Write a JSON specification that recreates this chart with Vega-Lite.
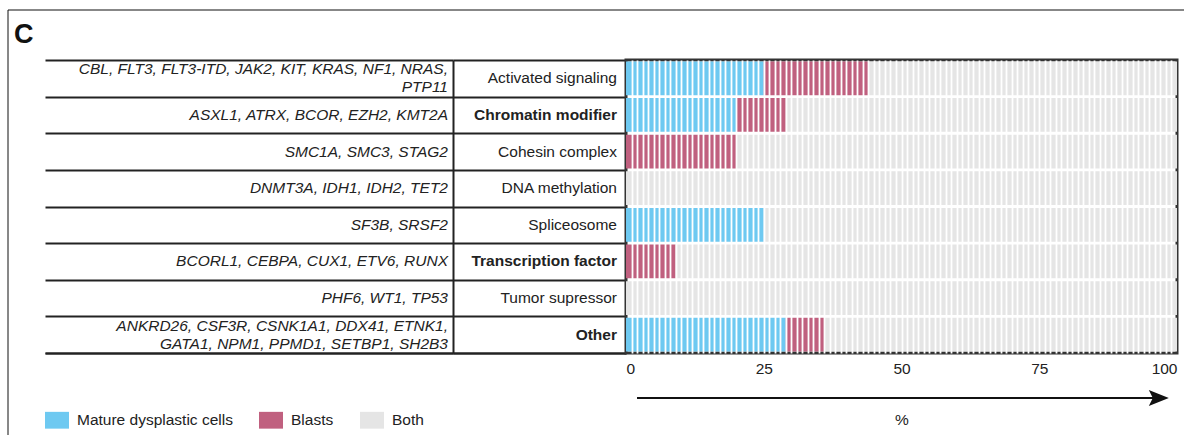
{
  "$schema": "https://vega.github.io/schema/vega-lite/v6.json",
  "padding": {"left": 7, "top": 9, "right": 0, "bottom": 0},
  "background": "white",
  "config": {
    "font": "Liberation Sans",
    "view": {"stroke": null},
    "concat": {"spacing": 0},
    "axis": {"labelFont": "Liberation Sans", "titleFont": "Liberation Sans"},
    "legend": {"labelFont": "Liberation Sans"}
  },
  "datasets": {
    "rows": [
      {"cat": "Activated signaling", "genes": "CBL, FLT3, FLT3-ITD, JAK2, KIT, KRAS, NF1, NRAS,\nPTP11"},
      {"cat": "Chromatin modifier", "genes": "ASXL1, ATRX, BCOR, EZH2, KMT2A"},
      {"cat": "Cohesin complex", "genes": "SMC1A, SMC3, STAG2"},
      {"cat": "DNA methylation", "genes": "DNMT3A, IDH1, IDH2, TET2"},
      {"cat": "Spliceosome", "genes": "SF3B, SRSF2"},
      {"cat": "Transcription factor", "genes": "BCORL1, CEBPA, CUX1, ETV6, RUNX"},
      {"cat": "Tumor supressor", "genes": "PHF6, WT1, TP53"},
      {"cat": "Other", "genes": "ANKRD26, CSF3R, CSNK1A1, DDX41, ETNK1,\nGATA1, NPM1, PPMD1, SETBP1, SH2B3"}
    ],
    "seg": [
      {"cat": "Activated signaling", "type": "Mature dysplastic cells", "start": 0, "end": 25},
      {"cat": "Activated signaling", "type": "Blasts", "start": 25, "end": 44},
      {"cat": "Activated signaling", "type": "Both", "start": 44, "end": 100},
      {"cat": "Chromatin modifier", "type": "Mature dysplastic cells", "start": 0, "end": 20},
      {"cat": "Chromatin modifier", "type": "Blasts", "start": 20, "end": 29},
      {"cat": "Chromatin modifier", "type": "Both", "start": 29, "end": 100},
      {"cat": "Cohesin complex", "type": "Blasts", "start": 0, "end": 20},
      {"cat": "Cohesin complex", "type": "Both", "start": 20, "end": 100},
      {"cat": "DNA methylation", "type": "Both", "start": 0, "end": 100},
      {"cat": "Spliceosome", "type": "Mature dysplastic cells", "start": 0, "end": 25},
      {"cat": "Spliceosome", "type": "Both", "start": 25, "end": 100},
      {"cat": "Transcription factor", "type": "Blasts", "start": 0, "end": 9},
      {"cat": "Transcription factor", "type": "Both", "start": 9, "end": 100},
      {"cat": "Tumor supressor", "type": "Both", "start": 0, "end": 100},
      {"cat": "Other", "type": "Mature dysplastic cells", "start": 0, "end": 29},
      {"cat": "Other", "type": "Blasts", "start": 29, "end": 36},
      {"cat": "Other", "type": "Both", "start": 36, "end": 100}
    ],
    "one": [{"label": "C"}]
  },
  "bounds": "flush",
  "spacing": 0,
  "hconcat": [
    {
      "width": 37,
      "height": 426,
      "data": {"name": "one"},
      "layer": [
        {
          "mark": {"type": "rule", "color": "#111", "strokeWidth": 1},
          "encoding": {"x": {"datum": 0, "type": "quantitative", "scale": {"domain": [0, 1]}, "axis": null}}
        },
        {
          "mark": {"type": "rule", "color": "#111", "strokeWidth": 1.2},
          "encoding": {"y": {"datum": 1, "type": "quantitative", "scale": {"domain": [0, 1]}, "axis": null}}
        },
        {
          "mark": {"type": "text", "align": "left", "baseline": "alphabetic", "dx": 6, "dy": 33, "fontSize": 27, "fontWeight": "bold", "color": "#111"},
          "encoding": {
            "x": {"datum": 0, "type": "quantitative"},
            "y": {"datum": 1, "type": "quantitative"},
            "text": {"field": "label"}
          }
        }
      ]
    },
    {
      "bounds": "flush",
      "spacing": 0,
      "vconcat": [
        {
          "width": 1140,
          "height": 50,
          "data": {"name": "one"},
          "mark": {"type": "rule", "color": "#111", "strokeWidth": 1.2},
          "encoding": {"y": {"datum": 1, "type": "quantitative", "scale": {"domain": [0, 1]}, "axis": null}}
        },
        {
          "bounds": "flush",
          "spacing": 0,
          "hconcat": [
            {
              "width": 408,
              "height": 293,
              "data": {"name": "rows"},
              "encoding": {
                "y": {
                  "field": "cat", "type": "nominal",
                  "sort": ["Activated signaling", "Chromatin modifier", "Cohesin complex", "DNA methylation", "Spliceosome", "Transcription factor", "Tumor supressor", "Other"],
                  "scale": {"paddingInner": 0, "paddingOuter": 0},
                  "axis": {"orient": "right", "title": null, "labels": false, "ticks": false, "domain": true, "domainColor": "#222", "domainWidth": 2, "grid": true, "gridColor": "#222", "gridWidth": 2, "gridOpacity": 1, "tickBand": "extent"}
                },
                "x": {
                  "datum": 1, "type": "quantitative", "scale": {"domain": [0, 1]},
                  "axis": {"title": null, "labels": false, "ticks": false, "grid": false, "domain": true, "domainColor": "#222", "domainWidth": 2}
                },
                "text": {"field": "genes"}
              },
              "layer": [
                {
                  "transform": [{"filter": "indexof(datum.genes, '\\n') < 0"}],
                  "mark": {"type": "text", "align": "right", "baseline": "middle", "dx": -5, "fontSize": 15.5, "fontStyle": "italic", "color": "#222", "lineBreak": "\n", "lineHeight": 18}
                },
                {
                  "transform": [{"filter": "indexof(datum.genes, '\\n') >= 0"}],
                  "mark": {"type": "text", "align": "right", "baseline": "middle", "dx": -5, "dy": -9, "fontSize": 15.5, "fontStyle": "italic", "color": "#222", "lineBreak": "\n", "lineHeight": 18}
                }
              ]
            },
            {
              "width": 173,
              "height": 293,
              "data": {"name": "rows"},
              "encoding": {
                "y": {
                  "field": "cat", "type": "nominal",
                  "sort": ["Activated signaling", "Chromatin modifier", "Cohesin complex", "DNA methylation", "Spliceosome", "Transcription factor", "Tumor supressor", "Other"],
                  "scale": {"paddingInner": 0, "paddingOuter": 0},
                  "axis": {"title": null, "labels": false, "ticks": false, "domain": false, "grid": true, "gridColor": "#222", "gridWidth": 2, "gridOpacity": 1, "tickBand": "extent"}
                },
                "x": {
                  "datum": 1, "type": "quantitative", "scale": {"domain": [0, 1]},
                  "axis": {"title": null, "labels": false, "ticks": false, "grid": false, "domain": true, "domainColor": "#222", "domainWidth": 2}
                },
                "text": {"field": "cat"}
              },
              "layer": [
                {
                  "transform": [{"filter": "indexof(['Chromatin modifier','Transcription factor','Other'], datum.cat) < 0"}],
                  "mark": {"type": "text", "align": "right", "baseline": "middle", "dx": -9, "fontSize": 15.5, "color": "#222"}
                },
                {
                  "transform": [{"filter": "indexof(['Chromatin modifier','Transcription factor','Other'], datum.cat) >= 0"}],
                  "mark": {"type": "text", "align": "right", "baseline": "middle", "dx": -9, "fontSize": 15.5, "fontWeight": "bold", "color": "#222"}
                }
              ]
            },
            {
              "bounds": "flush",
              "spacing": 35,
              "vconcat": [
                {
                  "width": 551,
                  "height": 293,
                  "data": {"name": "seg"},
                  "view": {"stroke": "#333", "strokeWidth": 3},
                  "mark": {"type": "bar"},
                  "encoding": {
                    "y": {
                      "field": "cat", "type": "nominal",
                      "sort": ["Activated signaling", "Chromatin modifier", "Cohesin complex", "DNA methylation", "Spliceosome", "Transcription factor", "Tumor supressor", "Other"],
                      "scale": {"paddingInner": 0.08, "paddingOuter": 0.04},
                      "axis": null
                    },
                    "x": {
                      "field": "start", "type": "quantitative",
                      "scale": {"domain": [0, 100], "nice": false},
                      "axis": {
                        "title": null,
                        "values": [0,1,2,3,4,5,6,7,8,9,10,11,12,13,14,15,16,17,18,19,20,21,22,23,24,25,26,27,28,29,30,31,32,33,34,35,36,37,38,39,40,41,42,43,44,45,46,47,48,49,50,51,52,53,54,55,56,57,58,59,60,61,62,63,64,65,66,67,68,69,70,71,72,73,74,75,76,77,78,79,80,81,82,83,84,85,86,87,88,89,90,91,92,93,94,95,96,97,98,99,100],
                        "labelExpr": "datum.value % 25 === 0 ? datum.label : ''",
                        "labelOverlap": false,
                        "labelFontSize": 15.5,
                        "labelColor": "#222",
                        "labelPadding": 8,
                        "ticks": false,
                        "domain": false,
                        "grid": true,
                        "gridColor": "white",
                        "gridWidth": 1.8,
                        "gridOpacity": {"condition": {"test": "datum.value === 0 || datum.value === 100", "value": 0}, "value": 1},
                        "zindex": 1
                      }
                    },
                    "x2": {"field": "end"},
                    "color": {
                      "field": "type", "type": "nominal",
                      "scale": {"domain": ["Mature dysplastic cells", "Blasts", "Both"], "range": ["#6EC9F1", "#C0607F", "#E5E5E5"]},
                      "legend": {
                        "title": null,
                        "orient": "none",
                        "direction": "horizontal",
                        "legendX": 37,
                        "legendY": 398,
                        "symbolType": "M-1,-0.7H1V0.7H-1Z",
                        "symbolSize": 576,
                        "symbolStrokeWidth": 0,
                        "symbolOpacity": 1,
                        "labelFontSize": 15.5,
                        "labelColor": "#222",
                        "labelOffset": 8,
                        "columnPadding": 26
                      }
                    }
                  }
                },
                {
                  "width": 551,
                  "height": 20,
                  "data": {"name": "one"},
                  "layer": [
                    {
                      "mark": {"type": "rule", "color": "#111", "strokeWidth": 2},
                      "encoding": {
                        "x": {"datum": 2, "type": "quantitative", "scale": {"domain": [0, 100], "nice": false},
                              "axis": {"title": "%", "labels": false, "ticks": false, "domain": false, "grid": false, "titleFontSize": 15.5, "titleFontWeight": "normal", "titleColor": "#222", "titlePadding": 4}},
                        "x2": {"datum": 96},
                        "y": {"datum": 0.5, "type": "quantitative", "scale": {"domain": [0, 1]}, "axis": null}
                      }
                    },
                    {
                      "mark": {"type": "point", "shape": "M1,0L-1,-0.8L-0.6,0L-1,0.8Z", "filled": true, "color": "#111", "opacity": 1, "size": 400},
                      "encoding": {
                        "x": {"datum": 96.7, "type": "quantitative"},
                        "y": {"datum": 0.5, "type": "quantitative"}
                      }
                    }
                  ]
                }
              ]
            }
          ]
        }
      ]
    }
  ]
}
